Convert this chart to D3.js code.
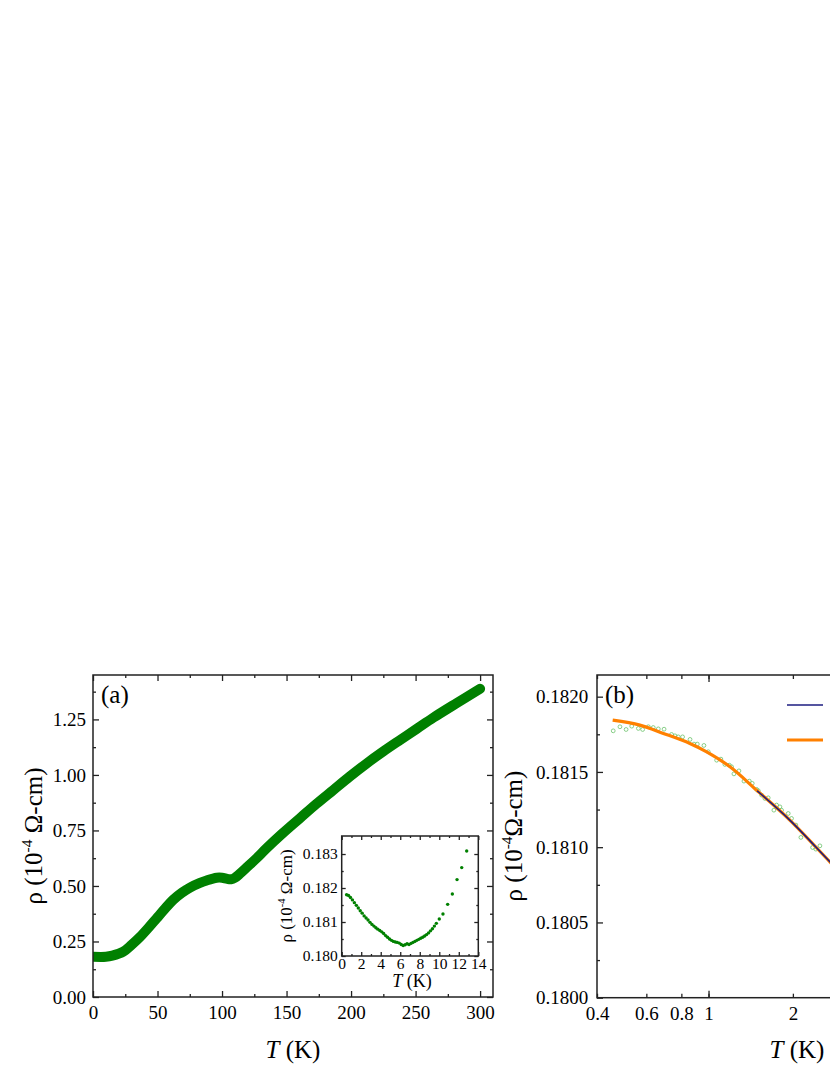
<!DOCTYPE html>
<html><head><meta charset="utf-8">
<script src="https://cdn.jsdelivr.net/npm/d3@7"></script>
<style>
body{margin:0;background:#fff;}
text{font-family:"Liberation Serif","Times New Roman",serif;fill:#000;}
</style></head>
<body><svg id="c" width="830" height="1075"></svg>
<script>
// ---------- DATA ----------
// Panel (a): main resistivity curve, T (K) and rho (1e-4 Ohm-cm)
const mainT   = [0, 10, 15, 23.5, 30, 36.4, 43, 49.4, 56, 62.2, 69, 75.2, 82.9, 88.1, 95.9, 100, 104, 107, 110, 114, 120, 127, 134.6, 147, 160.4, 173, 186.2, 199, 212.1, 225, 237.9, 251, 263.8, 282, 300];
const mainRho = [0.181, 0.181, 0.186, 0.204, 0.235, 0.270, 0.312, 0.355, 0.399, 0.438, 0.470, 0.493, 0.514, 0.525, 0.537, 0.537, 0.532, 0.530, 0.537, 0.556, 0.588, 0.626, 0.670, 0.737, 0.805, 0.869, 0.932, 0.993, 1.052, 1.106, 1.157, 1.208, 1.258, 1.324, 1.388];
// Inset: low-T data
const insetT   = [0.5,0.7,0.9,1.1,1.3,1.5,1.7,1.9,2.1,2.3,2.5,2.7,2.9,3.1,3.3,3.5,3.7,3.9,4.1,4.3,4.5,4.7,4.9,5.1,5.3,5.5,5.7,5.9,6.1,6.3,6.5,6.7,6.9,7.1,7.3,7.5,7.7,7.9,8.1,8.3,8.5,8.7,8.9,9.1,9.3,9.5,9.7,10.0,10.38,10.86,11.34,11.82,12.30,12.81];
const insetRho = [0.18180,0.18178,0.18172,0.18165,0.18157,0.18149,0.18141,0.18133,0.18126,0.18118,0.18112,0.18106,0.18099,0.18093,0.18088,0.18083,0.18079,0.18075,0.18071,0.18066,0.18060,0.18055,0.18050,0.18046,0.18043,0.18041,0.18040,0.18038,0.18034,0.18031,0.18033,0.18036,0.18034,0.18037,0.18040,0.18043,0.18046,0.18049,0.18052,0.18055,0.18059,0.18063,0.18068,0.18074,0.18080,0.18088,0.18096,0.181088,0.181235,0.18152,0.181824,0.182247,0.1826,0.183088];
// Panel (b): data (open circles) on log T
const bT   = [0.457,0.483,0.508,0.532,0.562,0.582,0.610,0.635,0.662,0.694,0.738,0.759,0.780,0.808,0.859,0.887,0.912,0.963,0.998,1.069,1.107,1.144,1.186,1.209,1.232,1.284,1.338,1.398,1.432,1.484,1.505,1.547,1.589,1.633,1.711,1.749,1.798,1.822,1.925,1.978,2.050,2.136,2.351,2.416,2.497];
const bRho = [0.181773,0.181800,0.181782,0.181804,0.181789,0.181782,0.181800,0.181795,0.181786,0.181784,0.181749,0.181740,0.181733,0.181733,0.181716,0.181685,0.181685,0.181676,0.181634,0.181578,0.181585,0.181550,0.181545,0.181534,0.181487,0.181507,0.181439,0.181439,0.181424,0.181384,0.181375,0.181346,0.181324,0.181328,0.181246,0.181280,0.181268,0.181246,0.181224,0.181191,0.181147,0.181065,0.180998,0.180987,0.181009];
// Fit curves
const fitOrangeT   = [0.455, 0.569, 0.690, 0.858, 0.985, 1.193, 1.484, 1.95, 2.71, 3.0];
const fitOrangeRho = [0.181844, 0.181811, 0.181756, 0.181689, 0.181633, 0.181534, 0.181379, 0.18118, 0.180903, 0.18082];
const fitNavyT   = [1.49, 1.95, 2.71, 3.0];
const fitNavyRho = [0.181375, 0.18118, 0.180903, 0.18082];
// Tick values
const aXTicks = [0,50,100,150,200,250,300];
const aYTicks = [0,0.25,0.5,0.75,1.0,1.25];
const iXTicks = [0,2,4,6,8,10,12,14];
const iYTicks = [0.180,0.181,0.182,0.183];
const bXTicks = [0.4,0.6,0.8,1,2];
const bYTicks = [0.1800,0.1805,0.1810,0.1815,0.1820];

// ---------- DRAW ----------
const svg = d3.select("#c");
const AX = "#222";
const green = "#008000";

function styleAxis(a, fs){
  a.select(".domain").remove();
  a.selectAll("line").attr("stroke",AX).attr("stroke-width",1.3);
  a.selectAll("text").style("font-size",fs+"px").attr("fill","#000")
    .style("font-family",'"Liberation Serif","Times New Roman",serif');
}
function ticks4(g, x, y, xv, yv, xlen, ylen, opt){
  const x0=x.range()[0], x1=x.range()[1], y0=y.range()[0], y1=y.range()[1];
  const lab = opt && opt.label;
  if(xv){
    styleAxis(g.append("g").attr("transform",`translate(0,${y0})`)
      .call(d3.axisBottom(x).tickValues(xv).tickSize(-xlen).tickPadding(lab?opt.xpad:0).tickFormat(lab?opt.xf:"")), lab?opt.fs:10);
    styleAxis(g.append("g").attr("transform",`translate(0,${y1})`)
      .call(d3.axisTop(x).tickValues(xv).tickSize(-xlen).tickFormat("")), 10);
  }
  if(yv){
    styleAxis(g.append("g").attr("transform",`translate(${x0},0)`)
      .call(d3.axisLeft(y).tickValues(yv).tickSize(-ylen).tickPadding(lab?opt.ypad:0).tickFormat(lab?opt.yf:"")), lab?opt.fs:10);
    styleAxis(g.append("g").attr("transform",`translate(${x1},0)`)
      .call(d3.axisRight(y).tickValues(yv).tickSize(-ylen).tickFormat("")), 10);
  }
}
function frame(g, x, y){
  const x0=x.range()[0], x1=x.range()[1], y0=y.range()[0], y1=y.range()[1];
  g.append("rect").attr("x",x0).attr("y",y1).attr("width",x1-x0).attr("height",y0-y1)
    .attr("fill","none").attr("stroke",AX).attr("stroke-width",1.5);
}
function yLabel(g, cx, cy, fs, sp){
  const t = g.append("text").attr("transform",`translate(${cx},${cy}) rotate(-90)`)
    .attr("text-anchor","middle").style("font-size",fs+"px");
  t.append("tspan").text("\u03C1 (10");
  t.append("tspan").attr("dy",-fs*0.42).style("font-size",(fs*0.62)+"px").text("-4");
  t.append("tspan").attr("dy",fs*0.42).text((sp?" ":"")+"\u03A9-cm)");
}
function xLabel(g, cx, cy, fs){
  const t = g.append("text").attr("x",cx).attr("y",cy).attr("text-anchor","middle").style("font-size",fs+"px");
  t.append("tspan").style("font-style","italic").text("T");
  t.append("tspan").text(" (K)");
}

// ----- Panel (a)
const xA = d3.scaleLinear().domain([0,310]).range([93,493]);
const yA = d3.scaleLinear().domain([0,1.45]).range([997,675]);
const gA = svg.append("g");
svg.append("defs").append("clipPath").attr("id","clipA").append("rect")
  .attr("x",93).attr("y",675).attr("width",400).attr("height",322);
const mainData = mainT.map((t,i)=>({t, r:mainRho[i]}));
gA.append("path").datum(mainData).attr("clip-path","url(#clipA)")
  .attr("d", d3.line().x(d=>xA(d.t)).y(d=>yA(d.r)).curve(d3.curveCatmullRom.alpha(0.5)))
  .attr("fill","none").attr("stroke",green).attr("stroke-width",10).attr("stroke-linecap","round").attr("stroke-linejoin","round");
ticks4(gA, xA, yA, aXTicks, aYTicks, 6, 6, {label:true, xpad:8.5, ypad:7, xf:d3.format("d"), yf:d3.format(".2f"), fs:19});
ticks4(gA, xA, yA, [25,75,125,175,225,275], [0.125,0.375,0.625,0.875,1.125,1.375], 3, 3);
frame(gA, xA, yA);
gA.append("text").attr("x",101).attr("y",703).style("font-size","25px").text("(a)");
xLabel(gA, 293, 1058, 25);
yLabel(gA, 42, 836, 25, true);

// ----- Inset
const xI = d3.scaleLinear().domain([0,14]).range([341.7,478.3]);
const yI = d3.scaleLinear().domain([0.180,0.18353]).range([956,836]);
const gI = svg.append("g");
gI.append("rect").attr("x",341.7).attr("y",836).attr("width",136.6).attr("height",120).attr("fill","#fff");
gI.selectAll("circle").data(insetT.map((t,i)=>({t,r:insetRho[i]}))).join("circle")
  .attr("cx",d=>xI(d.t)).attr("cy",d=>yI(d.r)).attr("r",1.7).attr("fill",green);
ticks4(gI, xI, yI, iXTicks, iYTicks, 4, 4, {label:true, xpad:2, ypad:4, xf:d3.format("d"), yf:d3.format(".3f"), fs:15.5});
ticks4(gI, xI, yI, [1,3,5,7,9,11,13], [0.1805,0.1815,0.1825], 2, 2);
frame(gI, xI, yI);
xLabel(gI, 412, 987, 18);
yLabel(gI, 292, 896, 17, true);

// ----- Panel (b)
const xB = d3.scaleLog().domain([0.4,10.7]).range([597,997]);
const yB = d3.scaleLinear().domain([0.18,0.182144]).range([997.7,675]);
const gB = svg.append("g");
gB.selectAll("circle").data(bT.map((t,i)=>({t,r:bRho[i]}))).join("circle")
  .attr("cx",d=>xB(d.t)).attr("cy",d=>yB(d.r)).attr("r",1.9)
  .attr("fill","none").attr("stroke","#6cc36c").attr("stroke-width",0.8);
const lineB = d3.line().x(d=>xB(d.t)).y(d=>yB(d.r)).curve(d3.curveCatmullRom);
gB.append("path").datum(fitOrangeT.map((t,i)=>({t,r:fitOrangeRho[i]}))).attr("d",lineB)
  .attr("fill","none").attr("stroke","#ff8000").attr("stroke-width",3.2);
gB.append("path").datum(fitNavyT.map((t,i)=>({t,r:fitNavyRho[i]}))).attr("d",lineB)
  .attr("fill","none").attr("stroke","#1c1c80").attr("stroke-width",1.6);
ticks4(gB, xB, yB, bXTicks, bYTicks, 4, 6, {label:true, xpad:8.5, ypad:8.7, xf:d=>String(d), yf:d3.format(".4f"), fs:19});
ticks4(gB, xB, yB, [1,10], [0.18025,0.18075,0.18125,0.18175], 7, 3);
frame(gB, xB, yB);
gB.append("text").attr("x",605).attr("y",703).style("font-size","25px").text("(b)");
xLabel(gB, 797, 1058, 25);
yLabel(gB, 522, 836, 25, false);
// legend
gB.append("line").attr("x1",787).attr("x2",823).attr("y1",705).attr("y2",705).attr("stroke","#1c1c80").attr("stroke-width",1.6);
gB.append("line").attr("x1",787).attr("x2",823).attr("y1",740).attr("y2",740).attr("stroke","#ff8000").attr("stroke-width",3.2);
</script></body></html>
